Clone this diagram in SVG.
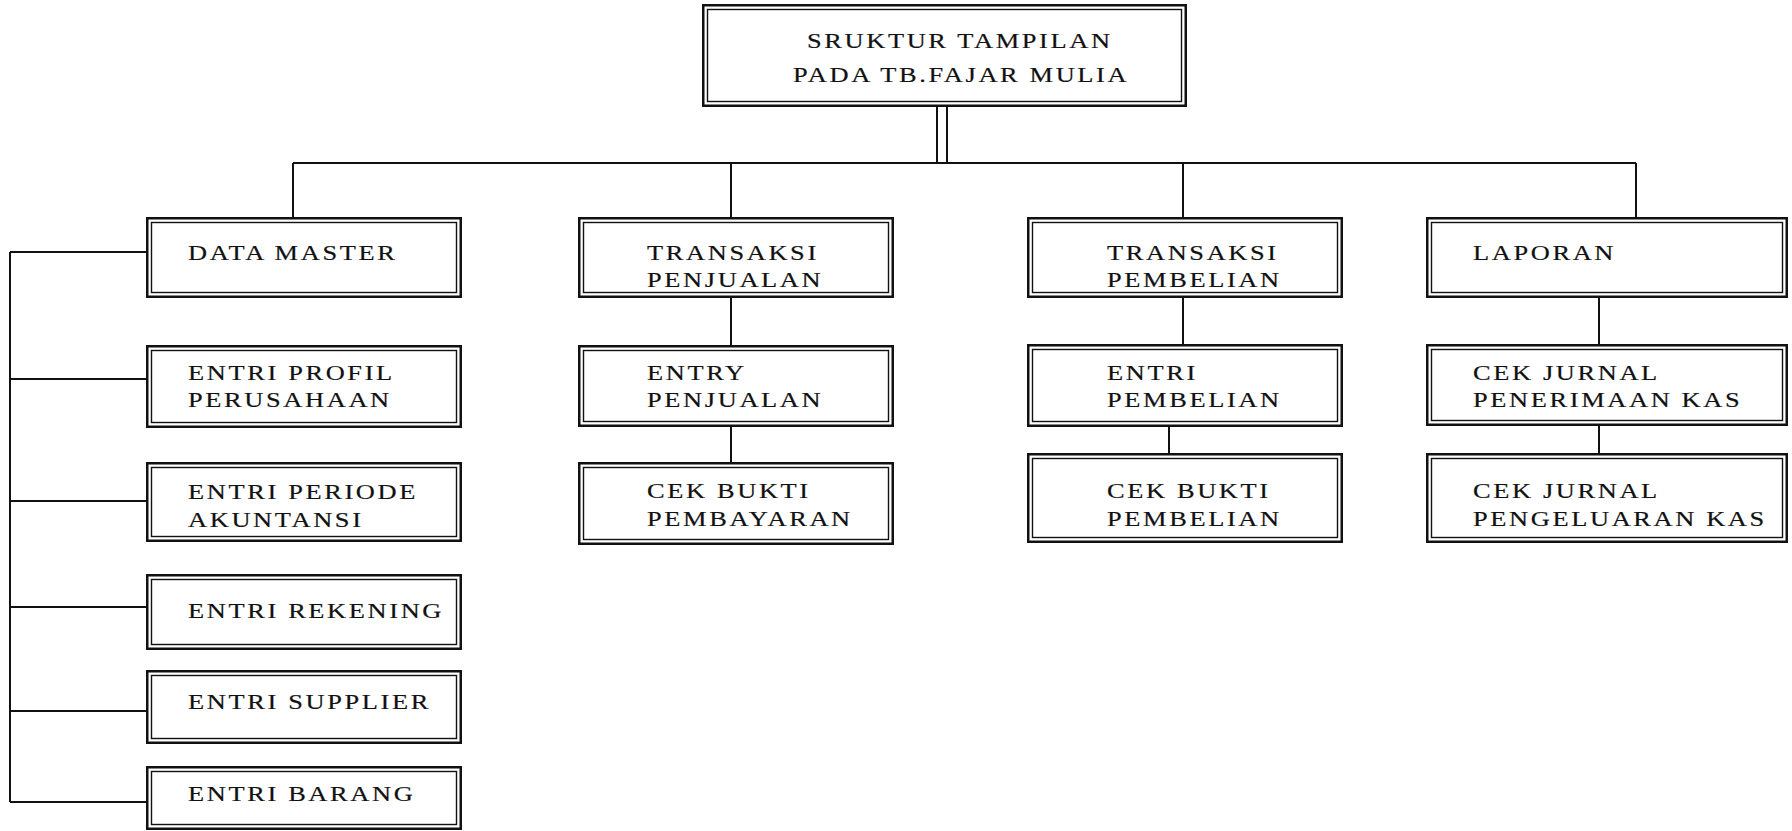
<svg xmlns="http://www.w3.org/2000/svg" width="1792" height="831" viewBox="0 0 1792 831" font-family="'Liberation Serif', 'Times New Roman', serif">
<style>
.o{fill:#fff;stroke:#111;stroke-width:2.5}
.i{fill:none;stroke:#111;stroke-width:1.4}
.c{fill:none;stroke:#111;stroke-width:2}
text{font-family:'Liberation Serif','Times New Roman',serif;font-size:22px;letter-spacing:2.2px;fill:#111;stroke:#111;stroke-width:0.2}
</style>
<rect width="1792" height="831" fill="#fff"/>
<g id="connectors">
<path class="c" d="M937,107V163M947,107V163"/>
<path class="c" d="M293,163H1636"/>
<path class="c" d="M293,163V217M731,163V217M1183,163V217M1636,163V217"/>
<path class="c" d="M10,252V802M10,252H146M10,379H146M10,501H146M10,607H146M10,711H146M10,802H146"/>
<path class="c" d="M731,298V345M731,427V462"/>
<path class="c" d="M1183,298V344M1169,427V453"/>
<path class="c" d="M1599,298V344M1599,426V453"/>
</g>
<g id="root">
<rect class="o" x="703.25" y="5.25" width="482.5" height="100.5"/>
<rect class="i" x="707.5" y="9.5" width="474" height="92"/>
<text transform="scale(1.2,1)" x="672.5" y="48">SRUKTUR TAMPILAN</text>
<text transform="scale(1.2,1)" x="660.8" y="82">PADA TB.FAJAR MULIA</text>
</g>
<g id="data-master">
<rect class="o" x="147.25" y="218.25" width="313.5" height="78.5"/>
<rect class="i" x="151.5" y="222.5" width="305" height="70"/>
<text transform="scale(1.2,1)" x="156.7" y="260">DATA MASTER</text>
</g>
<g id="entri-profil">
<rect class="o" x="147.25" y="346.25" width="313.5" height="80.5"/>
<rect class="i" x="151.5" y="350.5" width="305" height="72"/>
<text transform="scale(1.2,1)" x="156.7" y="380">ENTRI PROFIL</text>
<text transform="scale(1.2,1)" x="156.7" y="407">PERUSAHAAN</text>
</g>
<g id="entri-periode">
<rect class="o" x="147.25" y="463.25" width="313.5" height="77.5"/>
<rect class="i" x="151.5" y="467.5" width="305" height="69"/>
<text transform="scale(1.2,1)" x="156.7" y="499">ENTRI PERIODE</text>
<text transform="scale(1.2,1)" x="156.7" y="527">AKUNTANSI</text>
</g>
<g id="entri-rekening">
<rect class="o" x="147.25" y="575.25" width="313.5" height="73.5"/>
<rect class="i" x="151.5" y="579.5" width="305" height="65"/>
<text transform="scale(1.2,1)" x="156.7" y="618">ENTRI REKENING</text>
</g>
<g id="entri-supplier">
<rect class="o" x="147.25" y="671.25" width="313.5" height="71.5"/>
<rect class="i" x="151.5" y="675.5" width="305" height="63"/>
<text transform="scale(1.2,1)" x="156.7" y="709">ENTRI SUPPLIER</text>
</g>
<g id="entri-barang">
<rect class="o" x="147.25" y="767.25" width="313.5" height="61.5"/>
<rect class="i" x="151.5" y="771.5" width="305" height="53"/>
<text transform="scale(1.2,1)" x="156.7" y="801">ENTRI BARANG</text>
</g>
<g id="transaksi-penjualan">
<rect class="o" x="579.25" y="218.25" width="313.5" height="78.5"/>
<rect class="i" x="583.5" y="222.5" width="305" height="70"/>
<text transform="scale(1.2,1)" x="539.2" y="260">TRANSAKSI</text>
<text transform="scale(1.2,1)" x="539.2" y="287">PENJUALAN</text>
</g>
<g id="entry-penjualan">
<rect class="o" x="579.25" y="346.25" width="313.5" height="79.5"/>
<rect class="i" x="583.5" y="350.5" width="305" height="71"/>
<text transform="scale(1.2,1)" x="539.2" y="380">ENTRY</text>
<text transform="scale(1.2,1)" x="539.2" y="407">PENJUALAN</text>
</g>
<g id="cek-bukti-pembayaran">
<rect class="o" x="579.25" y="463.25" width="313.5" height="80.5"/>
<rect class="i" x="583.5" y="467.5" width="305" height="72"/>
<text transform="scale(1.2,1)" x="539.2" y="498">CEK BUKTI</text>
<text transform="scale(1.2,1)" x="539.2" y="526">PEMBAYARAN</text>
</g>
<g id="transaksi-pembelian">
<rect class="o" x="1028.25" y="218.25" width="313.5" height="78.5"/>
<rect class="i" x="1032.5" y="222.5" width="305" height="70"/>
<text transform="scale(1.2,1)" x="922.5" y="260">TRANSAKSI</text>
<text transform="scale(1.2,1)" x="922.5" y="287">PEMBELIAN</text>
</g>
<g id="entri-pembelian">
<rect class="o" x="1028.25" y="345.25" width="313.5" height="80.5"/>
<rect class="i" x="1032.5" y="349.5" width="305" height="72"/>
<text transform="scale(1.2,1)" x="922.5" y="380">ENTRI</text>
<text transform="scale(1.2,1)" x="922.5" y="407">PEMBELIAN</text>
</g>
<g id="cek-bukti-pembelian">
<rect class="o" x="1028.25" y="454.25" width="313.5" height="87.5"/>
<rect class="i" x="1032.5" y="458.5" width="305" height="79"/>
<text transform="scale(1.2,1)" x="922.5" y="498">CEK BUKTI</text>
<text transform="scale(1.2,1)" x="922.5" y="526">PEMBELIAN</text>
</g>
<g id="laporan">
<rect class="o" x="1427.25" y="218.25" width="359.5" height="78.5"/>
<rect class="i" x="1431.5" y="222.5" width="351" height="70"/>
<text transform="scale(1.2,1)" x="1227.5" y="260">LAPORAN</text>
</g>
<g id="cek-jurnal-penerimaan">
<rect class="o" x="1427.25" y="345.25" width="359.5" height="79.5"/>
<rect class="i" x="1431.5" y="349.5" width="351" height="71"/>
<text transform="scale(1.2,1)" x="1227.5" y="380">CEK JURNAL</text>
<text transform="scale(1.2,1)" x="1227.5" y="407">PENERIMAAN KAS</text>
</g>
<g id="cek-jurnal-pengeluaran">
<rect class="o" x="1427.25" y="454.25" width="359.5" height="87.5"/>
<rect class="i" x="1431.5" y="458.5" width="351" height="79"/>
<text transform="scale(1.2,1)" x="1227.5" y="498">CEK JURNAL</text>
<text transform="scale(1.2,1)" x="1227.5" y="526">PENGELUARAN KAS</text>
</g>
</svg>
